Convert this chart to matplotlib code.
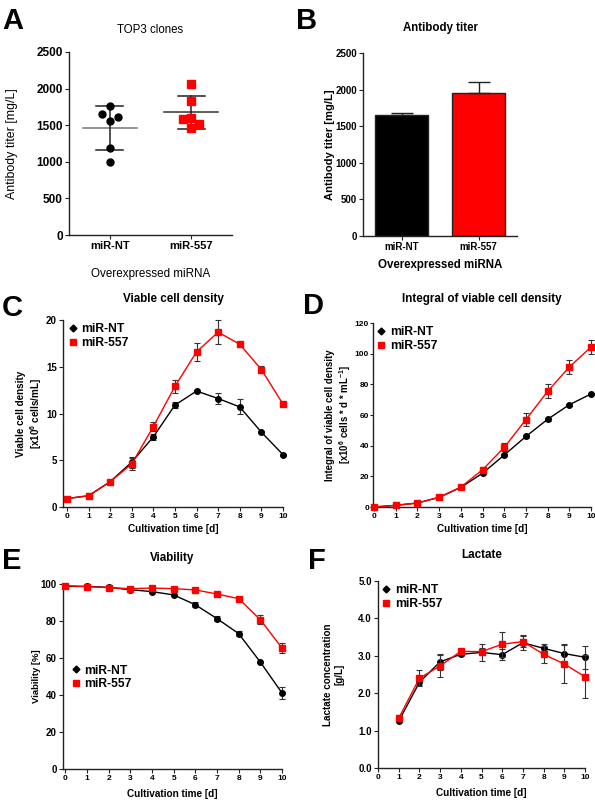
import matplotlib
matplotlib.use("Agg")
import matplotlib.pyplot as plt
import numpy as np
from matplotlib.lines import Line2D

plt.rcParams['font.family'] = ['Liberation Sans', 'DejaVu Sans']
plt.rcParams['mathtext.fontset'] = 'custom'
plt.rcParams['mathtext.rm'] = 'Liberation Sans'
plt.rcParams['mathtext.bf'] = 'Liberation Sans:bold'

RED = '#ff0000'

# Panel A - individual clones
clone_groups = ['miR-NT', 'miR-557']
nt_clones = [1759, 1659, 1609, 1555, 1191, 1000]
mir557_clones = [2064, 1827, 1600, 1586, 1518, 1464]

# Panel B - mean titer
titer_mean = [1650, 1950]
titer_err = [30, 160]

# Time course
days = list(range(0, 11))

vcd_nt = [0.9, 1.2, 2.7, 4.8, 7.5, 10.9, 12.4, 11.6, 10.7, 8.0, 5.6]
vcd_nt_err = [0.1, 0.1, 0.1, 0.6, 0.35, 0.35, 0.1, 0.6, 0.8, 0.1, 0.1]
vcd_557 = [0.9, 1.2, 2.7, 4.6, 8.6, 12.9, 16.6, 18.7, 17.4, 14.7, 11.0]
vcd_557_err = [0.1, 0.1, 0.1, 0.6, 0.5, 0.7, 0.95, 1.3, 0.3, 0.4, 0.1]

ivcd_nt = [0, 1.1, 2.6, 6.3, 12.8, 22.0, 33.9, 46.0, 57.2, 66.7, 73.7]
ivcd_nt_err = [0.2, 0.2, 0.3, 0.4, 0.5, 0.6, 0.7, 0.8, 0.8, 0.8, 0.8]
ivcd_557 = [0, 1.1, 2.6, 6.3, 13.0, 24.3, 38.9, 57.0, 75.4, 91.3, 104.3]
ivcd_557_err = [0.2, 0.2, 0.3, 0.5, 1.0, 1.5, 2.7, 4.0, 4.5, 4.6, 4.3]

via_nt = [98.7, 98.7, 98.2, 96.9, 95.9, 94.1, 88.8, 81.3, 73.2, 57.8, 41.1]
via_nt_err = [0.5, 0.5, 0.5, 0.6, 0.7, 0.6, 1.3, 1.5, 1.5, 0.6, 3.0]
via_557 = [99.1, 98.6, 98.0, 97.5, 97.8, 97.5, 96.8, 94.6, 92.1, 80.7, 65.4]
via_557_err = [0.5, 0.5, 0.5, 0.5, 0.5, 0.5, 0.6, 0.6, 0.6, 2.5, 2.5]

lac_days = list(range(1, 11))
lac_nt = [1.25, 2.29, 2.84, 3.04, 3.09, 3.03, 3.35, 3.20, 3.06, 2.96]
lac_nt_err = [0.03, 0.08, 0.22, 0.04, 0.23, 0.15, 0.2, 0.12, 0.25, 0.3]
lac_557 = [1.33, 2.40, 2.73, 3.12, 3.11, 3.31, 3.38, 3.04, 2.78, 2.44]
lac_557_err = [0.04, 0.22, 0.3, 0.05, 0.1, 0.33, 0.15, 0.23, 0.52, 0.58]

W, H = 595, 800
fig = plt.figure(figsize=(W / 100, H / 100), dpi=100)


def px_axes(left, top, right, bottom):
    return fig.add_axes([left / W, 1 - bottom / H, (right - left) / W, (bottom - top) / H])


def style_axes(ax, xsize=6, ysize=7, weight='bold'):
    for s in ['top', 'right']:
        ax.spines[s].set_visible(False)
    for s in ['left', 'bottom']:
        ax.spines[s].set_linewidth(1.0)
        ax.spines[s].set_color('#222222')
    ax.tick_params(direction='out', length=3, width=0.8, pad=1.5, color='#222222')
    ax.tick_params(axis='x', labelsize=xsize)
    ax.tick_params(axis='y', labelsize=ysize)
    for lab in ax.get_xticklabels() + ax.get_yticklabels():
        lab.set_fontweight(weight)


def letter(x, y, s):
    fig.text(x / W, 1 - y / H, s, fontsize=21, fontweight='bold', va='top', ha='left')


# ---- A: scatter of clones
ax = px_axes(69, 52, 232, 235)
nt_jitter = [0, -0.1, 0.1, 0, 0, 0]
r_jitter = [0, 0, 0, -0.1, 0.1, 0]
ax.plot(np.array(nt_jitter) + 0, nt_clones, 'o', color='black', ms=5, zorder=3)
ax.plot(np.array(r_jitter) + 1, mir557_clones, 's', color=RED, ms=5.5, zorder=3)
for i, (vals, lc) in enumerate([(nt_clones, '#777777'), (mir557_clones, '#333333')]):
    m = np.mean(vals)
    sd = np.std(vals, ddof=1)
    ax.plot([i - 0.33, i + 0.33], [m, m], color=lc, lw=1.1, zorder=2)
    ax.plot([i, i], [m - sd, m + sd], color='#222222', lw=1.1, zorder=2)
    for yv in (m - sd, m + sd):
        ax.plot([i - 0.165, i + 0.165], [yv, yv], color='#222222', lw=1.1, zorder=2)
ax.set_xlim(-0.5, 1.5)
ax.set_ylim(0, 2500)
ax.set_xticks([0, 1])
ax.set_xticklabels(clone_groups)
ax.set_yticks(range(0, 2501, 500))
style_axes(ax, xsize=8, ysize=8.5)
ax.set_title('TOP3 clones', fontsize=8.3, pad=14)
ax.set_ylabel('Antibody titer [mg/L]', fontsize=8.9, labelpad=13)
ax.set_xlabel('Overexpressed miRNA', fontsize=8.4, labelpad=12)
letter(2, 7, 'A')

# ---- B: bar chart
ax = px_axes(363, 53, 517, 236)
ax.bar([0, 1], titer_mean, width=0.7, color=['black', RED], edgecolor='#222222', lw=1)
ax.errorbar([0, 1], titer_mean, yerr=[[0, 0], titer_err], fmt='none', ecolor='#222222',
            elinewidth=1, capsize=8, capthick=1)
ax.set_xlim(-0.5, 1.5)
ax.set_ylim(0, 2500)
ax.set_xticks([0, 1])
ax.set_xticklabels(clone_groups)
ax.set_yticks(range(0, 2501, 500))
style_axes(ax, xsize=7, ysize=7)
ax.set_title('Antibody titer', fontsize=8.3, fontweight='bold', pad=16)
ax.set_ylabel('Antibody titer [mg/L]', fontsize=8.1, fontweight='bold', labelpad=0)
ax.set_xlabel('Overexpressed miRNA', fontsize=8.3, fontweight='bold', labelpad=5)
letter(296, 7, 'B')


def time_course(ax, x, nt, nt_err, r, r_err):
    ax.errorbar(x, nt, yerr=nt_err, color='black', marker='o', ms=4, lw=1,
                ecolor='#333333', elinewidth=0.8, capsize=2.2, capthick=0.8,
                clip_on=False, zorder=3)
    ax.errorbar(x, r, yerr=r_err, color=RED, marker='s', ms=5, lw=1,
                ecolor='#333333', elinewidth=0.8, capsize=2.2, capthick=0.8,
                clip_on=False, zorder=4)
    ax.set_xticks(range(0, 11))


def add_legend(ax, anchor):
    handles = [Line2D([], [], color='black', marker='D', ms=3.5, lw=0),
               Line2D([], [], color=RED, marker='s', ms=4, lw=0)]
    ax.legend(handles, ['miR-NT', 'miR-557'], loc='upper left', bbox_to_anchor=anchor,
              frameon=False, handlelength=0.6, handletextpad=0.4, labelspacing=0.15,
              borderaxespad=0, prop={'weight': 'bold', 'size': 8.7})


# ---- C: viable cell density
ax = px_axes(63, 320, 283, 507)
time_course(ax, days, vcd_nt, vcd_nt_err, vcd_557, vcd_557_err)
ax.set_xlim(-0.18, 10)
ax.set_ylim(0, 20)
ax.set_yticks([0, 5, 10, 15, 20])
style_axes(ax)
ax.set_title('Viable cell density', fontsize=8.4, fontweight='bold', pad=13)
ax.set_ylabel('Viable cell density\n[x10$^{\\mathbf{6}}$ cells/mL]', fontsize=7.1,
              fontweight='bold', labelpad=1)
ax.set_xlabel('Cultivation time [d]', fontsize=7.2, fontweight='bold', labelpad=3)
add_legend(ax, (0.005, 1.01))
letter(2, 294, 'C')

# ---- D: integral of viable cell density
ax = px_axes(373, 323, 591, 507)
time_course(ax, days, ivcd_nt, ivcd_nt_err, ivcd_557, ivcd_557_err)
ax.set_xlim(-0.05, 10)
ax.set_ylim(0, 120)
ax.set_yticks(range(0, 121, 20))
style_axes(ax, ysize=6)
ax.tick_params(axis='y', length=2, pad=0.8)
ax.set_title('Integral of viable cell density', fontsize=8.4, fontweight='bold', pad=15)
ax.set_ylabel('Integral of viable cell density\n[x10$^{\\mathbf{6}}$ cells * d * mL$^{\\mathbf{-1}}$]',
              fontsize=6.9, fontweight='bold', labelpad=1)
ax.set_xlabel('Cultivation time [d]', fontsize=7.2, fontweight='bold', labelpad=3)
add_legend(ax, (0.0, 1.01))
letter(303, 292, 'D')

# ---- E: viability
ax = px_axes(63, 584, 282, 769)
time_course(ax, days, via_nt, via_nt_err, via_557, via_557_err)
ax.set_xlim(-0.1, 10)
ax.set_ylim(0, 100)
ax.set_yticks(range(0, 101, 20))
style_axes(ax)
ax.set_title('Viability', fontsize=8.4, fontweight='bold', pad=16.5)
ax.set_ylabel('Viability [%]', fontsize=6.8, fontweight='bold', labelpad=0)
ax.set_xlabel('Cultivation time [d]', fontsize=7.2, fontweight='bold', labelpad=5)
add_legend(ax, (0.02, 0.59))
letter(2, 547, 'E')

# ---- F: lactate
ax = px_axes(378, 581, 585, 768)
time_course(ax, lac_days, lac_nt, lac_nt_err, lac_557, lac_557_err)
ax.set_xlim(0, 10)
ax.set_ylim(0, 5)
ax.set_yticks(np.arange(0, 5.01, 1.0))
ax.yaxis.set_major_formatter(matplotlib.ticker.FormatStrFormatter('%.1f'))
style_axes(ax)
ax.set_title('Lactate', fontsize=8.4, fontweight='bold', pad=16.5)
ax.set_ylabel('Lactate concentration\n[g/L]', fontsize=7.1, fontweight='bold', labelpad=10)
ax.set_xlabel('Cultivation time [d]', fontsize=7.2, fontweight='bold', labelpad=5)
add_legend(ax, (0.0, 1.01))
letter(308, 547, 'F')

fig.savefig('out.png', dpi=100, facecolor='white')
